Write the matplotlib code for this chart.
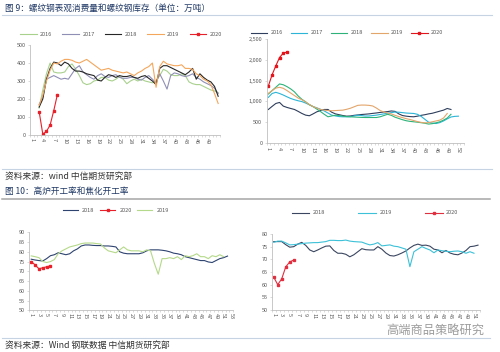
import matplotlib
matplotlib.use('Agg')
import matplotlib.pyplot as plt
from matplotlib.lines import Line2D
from matplotlib.ticker import FuncFormatter
import numpy as np

plt.rcParams['font.family'] = ['Noto Sans CJK SC', 'DejaVu Sans']

# ---------------- data: rebar apparent consumption (weeks 3..52) ----------------
cons_weeks = list(range(3, 53))
cons_2016 = [150,250,340,400,350,345,345,350,380,395,365,330,290,280,285,300,305,320,320,305,
             300,310,325,310,285,300,310,300,310,300,295,290,300,330,365,355,335,330,330,340,
             330,295,285,280,280,270,260,250,245,235]
cons_2017 = [170,210,310,320,330,320,310,315,310,340,370,385,350,335,320,310,330,340,325,320,
             330,335,320,315,315,320,320,310,305,320,330,310,290,340,300,255,330,345,340,330,
             325,330,340,320,310,295,285,275,260,230]
cons_2018 = [155,200,310,370,405,400,385,405,395,370,355,355,350,340,335,330,305,300,320,335,
             330,320,330,325,325,330,320,315,325,330,315,300,280,370,385,385,375,365,355,345,
             335,350,370,310,340,320,305,295,270,215]
cons_2019 = [165,220,300,360,400,395,410,420,420,415,405,400,410,420,405,390,375,360,365,370,
             360,355,350,345,350,340,330,345,355,370,380,400,265,380,410,395,390,385,385,390,
             370,370,365,340,330,310,300,280,230,175]
cons_2020_weeks = [3, 4, 5, 6, 7, 8]
cons_2020 = [130, 5, 20, 55, 135, 225]
cons_xlabels = ['1','4','7','10','13','16','19','22','25','28','31','34','37','40','43','46','49']
cons_xticks = [1,4,7,10,13,16,19,22,25,28,31,34,37,40,43,46,49]

# ---------------- data: rebar inventory ----------------
inv_2016 = [806,880,950,975,887,855,830,806,760,710,670,655,700,750,780,806,806,740,700,680,
            660,645,650,665,675,685,692,700,712,722,735,745,755,770,760,700,660,645,635,630,
            645,665,680,700,715,740,765,790,830,806]
inv_2017 = [1097,1190,1218,1190,1153,1110,1070,1040,1015,995,960,920,875,845,810,770,720,670,650,635,
            630,630,632,650,668,660,648,650,660,670,685,700,715,730,745,740,730,720,715,710,
            690,640,570,500,480,468,490,530,580,625,640,645]
inv_2018 = [1177,1260,1340,1420,1400,1355,1300,1230,1130,1050,990,920,875,815,755,690,630,650,668,660,
            645,635,630,625,620,615,613,613,613,613,630,660,690,665,620,590,560,535,520,510,
            500,488,475,455,465,485,510,550,600,690]
inv_2019 = [1194,1260,1320,1339,1315,1260,1200,1140,1080,1040,985,925,875,840,805,790,780,775,780,785,
            790,810,835,870,905,912,911,905,890,840,780,745,720,700,665,635,610,585,565,540,
            515,495,484,490,510,530,550,600,710]
inv_2020 = [1370, 1640, 1855, 2055, 2160, 2185]
inv_xlabels = ['1','4','7','10','13','16','19','22','25','28','31','34','37','40','43','46','49','52']
inv_xticks = [1,4,7,10,13,16,19,22,25,28,31,34,37,40,43,46,49,52]

# ---------------- data: blast furnace utilisation ----------------
bf_2018 = [76.2,75.8,75.5,75.3,76.5,78.0,78.5,79.5,79.0,78.5,79.0,80.5,81.5,83.0,83.5,83.5,83.3,83.2,83.2,83.0,
           83.0,82.8,82.5,80.0,79.3,79.0,79.0,79.0,79.0,79.5,80.5,81.0,81.0,81.0,80.8,80.5,80.0,79.3,79.0,78.5,
           77.5,77.0,76.5,76.0,75.5,75.5,74.8,74.5,75.5,76.5,77.0,77.8]
bf_2019 = [77.9,77.5,77.0,75.0,74.5,75.0,76.0,79.0,80.5,81.5,82.5,83.0,83.5,84.2,84.5,84.5,84.5,84.2,84.0,82.0,
           80.5,80.0,79.5,81.0,82.5,81.0,80.5,80.5,80.5,80.0,81.0,80.5,74.0,68.5,76.5,76.5,77.0,76.5,77.5,76.0,
           78.0,77.5,78.0,79.0,77.5,77.5,76.5,78.0,77.5,78.5,77.5]
bf_2020 = [75.0, 73.3, 71.3, 71.8, 72.3, 72.8]
bf_xlabels = [str(v) for v in [1,3,5,7,9,11,13,15,17,19,21,23,25,27,29,31,33,35,37,39,41,43,45,47,49,51,53]]
bf_xticks = [1,3,5,7,9,11,13,15,17,19,21,23,25,27,29,31,33,35,37,39,41,43,45,47,49,51,53]

# ---------------- data: coking utilisation ----------------
ck_2018 = [77.0,77.0,77.0,75.8,74.8,75.0,76.0,76.7,75.5,73.7,73.0,73.7,74.5,75.2,75.3,73.5,72.4,72.4,72.0,71.0,
           71.8,73.0,74.2,73.8,73.7,73.7,75.0,74.0,72.5,71.5,71.3,71.8,72.5,73.3,74.5,75.5,76.0,75.5,75.6,75.2,
           74.0,73.7,72.6,73.5,72.5,72.0,71.8,72.5,73.5,75.0,75.2,75.6]
ck_2019 = [76.7,77.2,77.2,76.5,75.7,75.8,76.0,76.2,76.4,76.5,76.6,76.6,76.8,77.0,77.5,77.5,77.4,77.4,77.6,77.2,
           77.0,76.9,76.8,76.2,75.7,76.0,76.6,75.3,75.5,75.7,75.2,75.0,74.5,74.0,67.1,73.0,74.0,75.0,74.3,73.7,
           72.6,73.7,73.4,73.2,73.0,73.2,73.3,73.0,72.4,73.0,72.4]
ck_2020 = [63.0, 60.0, 62.3, 67.0, 69.0, 69.7]
ck_xlabels = [str(v) for v in [1,3,5,7,9,11,13,15,17,19,21,23,25,27,29,31,33,35,37,39,41,43,45,47,49,51]]
ck_xticks = [1,3,5,7,9,11,13,15,17,19,21,23,25,27,29,31,33,35,37,39,41,43,45,47,49,51]

TICK_C = '#595959'
SPINE_C = '#BFBFBF'
FS = 4.0

fig = plt.figure(figsize=(5, 3.52), dpi=100)

def px_axes(x0, x1, ytop, ybot):
    return fig.add_axes([x0 / 500, 1 - ybot / 352, (x1 - x0) / 500, (ybot - ytop) / 352])

def style(ax, ncat, xticks, xlabels, ylim, yticks, xpad=2.0):
    ax.set_xlim(0.5, ncat + 0.5)
    ax.set_ylim(*ylim)
    ax.patch.set_alpha(0)
    for s in ['top', 'right']:
        ax.spines[s].set_visible(False)
    for s in ['left', 'bottom']:
        ax.spines[s].set_color(SPINE_C)
        ax.spines[s].set_linewidth(0.6)
    ax.set_xticks(xticks)
    ax.set_xticklabels(xlabels, rotation=-90, fontsize=FS, color=TICK_C)
    ax.tick_params(axis='x', which='major', length=0, pad=xpad)
    ax.set_xticks(np.arange(0.5, ncat + 1, 1), minor=True)
    ax.tick_params(axis='x', which='minor', length=1.5, width=0.4, color=SPINE_C)
    ax.set_yticks(yticks)
    ax.tick_params(axis='y', length=1.5, width=0.4, color=SPINE_C, labelsize=FS,
                   labelcolor=TICK_C, pad=1.5)

LW = 0.8

# ---- top-left: consumption ----
ax1 = px_axes(30, 220, 45, 135)
style(ax1, 52, cons_xticks, cons_xlabels, (0, 500), [0, 100, 200, 300, 400, 500])
ax1.plot(cons_weeks, cons_2016, color='#A9D18E', lw=LW, label='2016')
ax1.plot(cons_weeks, cons_2017, color='#8F8FB5', lw=LW, label='2017')
ax1.plot(cons_weeks, cons_2018, color='#262626', lw=LW, label='2018')
ax1.plot(cons_weeks, cons_2019, color='#F4A65C', lw=LW, label='2019')
ax1.plot(cons_2020_weeks, cons_2020, color='#E8202A', lw=LW, marker='s', ms=1.8, label='2020')
fig.legend(*ax1.get_legend_handles_labels(), loc='center', bbox_to_anchor=(121 / 500, 1 - 34 / 352),
           ncol=5, frameon=False, fontsize=FS, handlelength=3.0, handletextpad=0.6,
           columnspacing=1.8, labelcolor=TICK_C)

# ---- top-right: inventory ----
ax2 = px_axes(266.5, 464, 39, 143)
style(ax2, 53, inv_xticks, inv_xlabels, (0, 2500), [0, 500, 1000, 1500, 2000, 2500], xpad=3)
ax2.yaxis.set_major_formatter(FuncFormatter(lambda v, p: f'{int(v):,}'))
ax2.plot(range(1, len(inv_2016) + 1), inv_2016, color='#2F3E5C', lw=LW, label='2016')
ax2.plot(range(1, len(inv_2017) + 1), inv_2017, color='#2CB5D6', lw=LW, label='2017')
ax2.plot(range(1, len(inv_2018) + 1), inv_2018, color='#2DB37A', lw=LW, label='2018')
ax2.plot(range(1, len(inv_2019) + 1), inv_2019, color='#E3A56A', lw=LW, label='2019')
ax2.plot(range(1, len(inv_2020) + 1), inv_2020, color='#E3141C', lw=LW, marker='s', ms=1.8, label='2020')
fig.legend(*ax2.get_legend_handles_labels(), loc='center', bbox_to_anchor=(347 / 500, 1 - 33 / 352),
           ncol=5, frameon=False, fontsize=FS, handlelength=3.0, handletextpad=0.6,
           columnspacing=1.4, labelcolor=TICK_C)

# ---- bottom-left: blast furnace ----
ax3 = px_axes(29.3, 233.3, 232.3, 310.3)
style(ax3, 53, bf_xticks, bf_xlabels, (50, 90), [50, 55, 60, 65, 70, 75, 80, 85, 90])
l18, = ax3.plot(range(1, len(bf_2018) + 1), bf_2018, color='#2E4370', lw=LW, label='2018')
l19, = ax3.plot(range(1, len(bf_2019) + 1), bf_2019, color='#B5D98A', lw=LW, label='2019')
l20, = ax3.plot(range(1, len(bf_2020) + 1), bf_2020, color='#E8202A', lw=LW, marker='s', ms=1.8,
                label='2020')
fig.legend([l18, l20, l19], ['2018', '2020', '2019'], loc='center',
           bbox_to_anchor=(116 / 500, 1 - 210 / 352), ncol=3, frameon=False, fontsize=FS,
           handlelength=2.7, handletextpad=0.8, columnspacing=1.0, labelcolor=TICK_C)

# ---- bottom-right: coking ----
ax4 = px_axes(271.7, 480, 234, 310)
style(ax4, 52, ck_xticks, ck_xlabels, (50, 80), [50, 55, 60, 65, 70, 75, 80])
ax4.plot(range(1, len(ck_2018) + 1), ck_2018, color='#3A4660', lw=LW, label='2018')
ax4.plot(range(1, len(ck_2019) + 1), ck_2019, color='#3CC1D8', lw=LW, label='2019')
ax4.plot(range(1, len(ck_2020) + 1), ck_2020, color='#E03040', lw=LW, marker='s', ms=1.8, label='2020')
fig.legend(*ax4.get_legend_handles_labels(), loc='center', bbox_to_anchor=(375 / 500, 1 - 213 / 352),
           ncol=3, frameon=False, fontsize=FS, handlelength=3.2, handletextpad=0.6,
           columnspacing=6.0, labelcolor=TICK_C)

# ---- page texts and separators ----
def hline(y, x0, x1, color, lw):
    fig.add_artist(Line2D([x0 / 500, x1 / 500], [1 - y / 352, 1 - y / 352], color=color, lw=lw))

fig.text(5 / 500, 1 - 8 / 352, '图 9：螺纹钢表观消费量和螺纹钢库存（单位：万吨）', fontsize=6.2,
         color='#1F3864', va='center', ha='left')
hline(15, 2, 492, '#C5D3E3', 0.8)
hline(169, 2, 492, '#C5D3E3', 0.8)
fig.text(5 / 500, 1 - 176 / 352, '资料来源：wind 中信期货研究部', fontsize=6.3, color='#333333',
         va='center', ha='left')
fig.text(5 / 500, 1 - 191 / 352, '图 10：高炉开工率和焦化开工率', fontsize=6.2, color='#1F3864',
         va='center', ha='left')
hline(198.5, 2, 490, '#A6A6A6', 1.1)
hline(338, 2, 490, '#C5D3E3', 0.8)
fig.text(5 / 500, 1 - 345 / 352, '资料来源：Wind 钢联数据 中信期货研究部', fontsize=6.3, color='#333333',
         va='center', ha='left')
fig.text(435 / 500, 1 - 330 / 352, '高端商品策略研究', fontsize=8.8, color='#8C8C8C', alpha=0.85,
         va='center', ha='center')

fig.savefig('out.png', dpi=100)
